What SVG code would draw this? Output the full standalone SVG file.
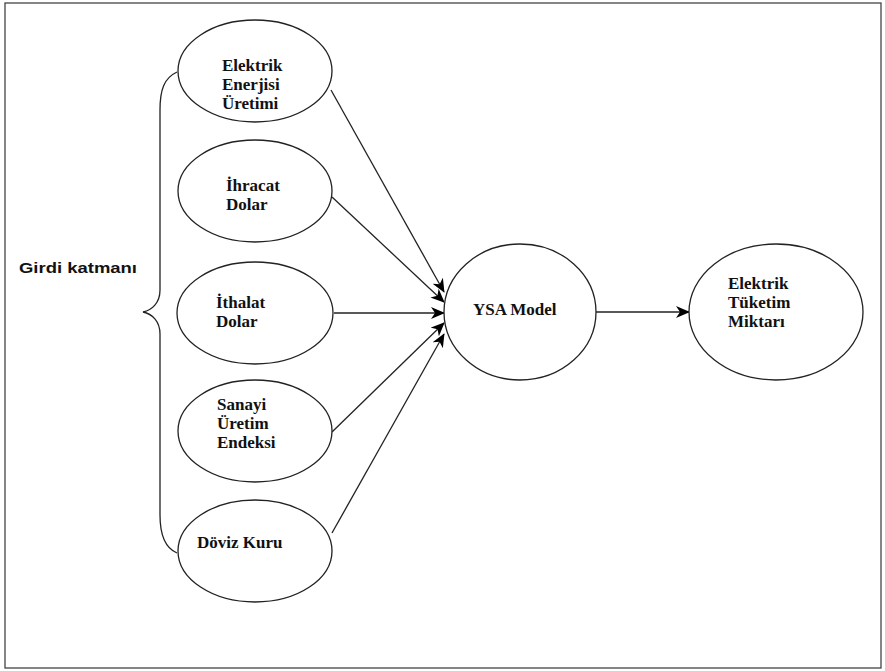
<svg xmlns="http://www.w3.org/2000/svg" width="885" height="671" viewBox="0 0 885 671">
<style>
.n{fill:#fff;stroke:#222;stroke-width:1.3}
.c{stroke:#222;stroke-width:1.3;fill:none}
</style>
<defs>
<marker id="ah" viewBox="0 0 14 12" refX="13" refY="6" markerWidth="14" markerHeight="12" markerUnits="userSpaceOnUse" orient="auto">
<path d="M0,0 L14,6 L0,12 L4,6 Z" fill="#000"/>
</marker>
</defs>
<rect x="5" y="3" width="876" height="665" fill="#fff" stroke="#444" stroke-width="1.3"/>
<g id="brace">
<path class="c" d="M177,72 C164,78 160,90 160,110 L160,290 C160,303 152,310 143,312 C152,314 160,321 160,334 L160,515 C160,535 165,548 177,553"/>
<text x="19" y="273" font-family="Liberation Sans, Arial, sans-serif" font-weight="bold" font-size="15" fill="#111" textLength="118" lengthAdjust="spacingAndGlyphs">Girdi katmanı</text>
</g>
<g id="connectors">
<line class="c" x1="331" y1="90" x2="444" y2="292" marker-end="url(#ah)"/>
<line class="c" x1="332" y1="197" x2="444" y2="302" marker-end="url(#ah)"/>
<line class="c" x1="334" y1="313" x2="444" y2="313" marker-end="url(#ah)"/>
<line class="c" x1="332" y1="432" x2="444" y2="323" marker-end="url(#ah)"/>
<line class="c" x1="332" y1="533" x2="444" y2="334" marker-end="url(#ah)"/>
<line class="c" x1="596" y1="312" x2="689" y2="312" marker-end="url(#ah)"/>
</g>
<g font-family="Liberation Serif, Times New Roman, DejaVu Serif, serif" font-weight="bold" font-size="17" fill="#111">
<g id="n1">
<ellipse class="n" cx="255" cy="71" rx="77" ry="51"/>
<text x="222" y="71">Elektrik</text>
<text x="222" y="90">Enerjisi</text>
<text x="222" y="109">Üretimi</text>
</g>
<g id="n2">
<ellipse class="n" cx="255" cy="191" rx="77" ry="51"/>
<text x="226" y="191">İhracat</text>
<text x="226" y="210">Dolar</text>
</g>
<g id="n3">
<ellipse class="n" cx="255" cy="313" rx="78" ry="51"/>
<text x="216" y="308">İthalat</text>
<text x="216" y="327">Dolar</text>
</g>
<g id="n4">
<ellipse class="n" cx="255" cy="431" rx="77" ry="51"/>
<text x="217" y="410">Sanayi</text>
<text x="217" y="429">Üretim</text>
<text x="217" y="448">Endeksi</text>
</g>
<g id="n5">
<ellipse class="n" cx="255" cy="551" rx="77" ry="51"/>
<text x="197" y="548">Döviz Kuru</text>
</g>
<g id="ysa">
<ellipse class="n" cx="520" cy="312" rx="76" ry="68"/>
<text x="473" y="315">YSA Model</text>
</g>
<g id="out">
<ellipse class="n" cx="776" cy="312" rx="87" ry="68"/>
<text x="728" y="289">Elektrik</text>
<text x="728" y="308">Tüketim</text>
<text x="728" y="327">Miktarı</text>
</g>
</g>
</svg>
